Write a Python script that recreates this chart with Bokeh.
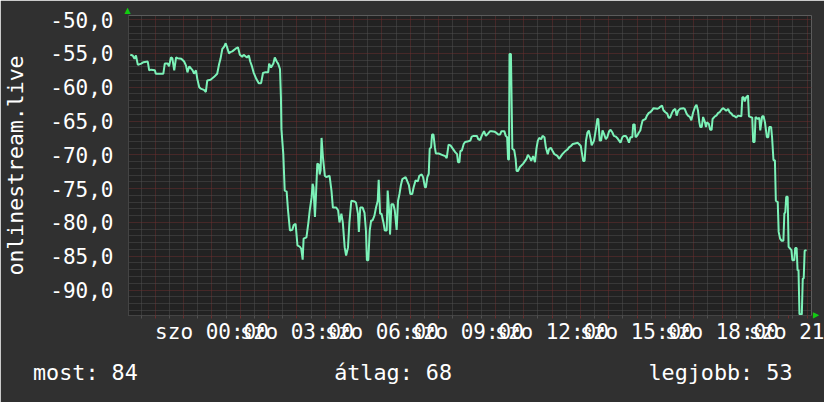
import math
from bokeh.plotting import figure
from bokeh.models import FixedTicker, Range1d, Title
from bokeh.embed import file_html
from bokeh.resources import INLINE

# time in minutes relative to Saturday 00:00, signal in dB
mins_night = [-173, -168, -164, -161, -157, -150, -145, -136, -133, -129, -121, -119, -103, -100, -94,
              -91, -87, -84, -80, -76, -73, -65, -59, -55, -52, -48, -41, -38, -34, -31, -27, -24,
              -17, -13, -10, -3, 4, 11, 15, 18, 22, 25, 29, 32, 36, 39, 43, 50, 55, 59, 64, 67, 74,
              78, 81, 85, 88, 94, 99, 104, 108]
vals_night = [-55.2, -55.3, -55.8, -55.3, -56.7, -56.5, -56.3, -56.2, -57.5, -57.4, -57.5, -58.0, -58.0,
              -56.5, -56.5, -56.9, -55.6, -55.7, -57.5, -55.6, -55.7, -55.8, -56.2, -56.8, -57.8, -56.9,
              -57.5, -58.0, -57.5, -58.8, -60.0, -60.2, -60.4, -60.7, -59.0, -58.9, -58.5, -58.0, -56.6,
              -55.8, -54.3, -54.1, -53.5, -54.1, -55.0, -54.8, -54.7, -54.3, -54.1, -55.2, -55.5, -55.2,
              -55.6, -55.3, -56.2, -57.0, -57.8, -58.8, -59.4, -59.4, -57.9]

mins_early = [112, 119, 121, 125, 130, 133, 137, 140, 144, 146, 147, 151, 154, 158, 161, 165, 170, 173,
              177, 181, 186, 189, 192, 194, 200, 204, 207, 211, 213, 215, 218, 220, 223, 226, 228, 230,
              232, 235, 239, 242, 249, 253, 256, 263, 267, 270, 274, 277, 281, 284, 288, 291, 295, 302,
              305, 309, 311, 314, 319, 323, 326, 328, 331, 334, 337, 340, 344, 347, 351, 353, 356, 359,
              363, 366, 370, 372, 375, 377, 380, 384, 387, 391, 394, 397, 400]
vals_early = [-57.8, -57.8, -56.5, -57.1, -56.5, -55.6, -56.2, -56.5, -57.3, -61.5, -66.2, -69.9, -75.3,
              -75.4, -78.2, -81.2, -81.1, -80.4, -80.2, -83.4, -83.6, -83.9, -85.5, -82.4, -82.2, -80.1,
              -78.2, -76.3, -74.3, -74.8, -79.2, -76.3, -71.3, -71.4, -72.9, -72.3, -67.5, -70.4, -73.1,
              -73.3, -73.1, -75.3, -77.8, -77.8, -78.2, -80.0, -78.7, -80.0, -83.7, -84.9, -83.7, -80.0,
              -76.8, -76.9, -77.1, -78.7, -81.4, -77.8, -77.8, -78.6, -81.2, -85.6, -85.6, -81.2, -79.7,
              -79.7, -79.0, -77.9, -76.8, -73.7, -78.7, -78.7, -80.0, -81.2, -81.2, -75.3, -78.2, -81.8,
              -77.3, -77.3, -78.2, -81.1, -76.8, -75.8, -74.5]

mins_morning = [403, 410, 413, 417, 420, 424, 427, 431, 436, 439, 444, 447, 451, 453, 456, 459, 461, 464,
                466, 469, 472, 474, 480, 487, 494, 497, 501, 505, 508, 512, 515, 519, 521, 524, 526, 529,
                533, 536, 543, 547, 550, 554, 561, 564, 568, 571, 576, 580, 584, 589, 592, 599, 603, 606,
                610, 613, 619, 622, 625, 627, 629, 630, 633, 636, 640, 643, 645, 648, 652, 659, 666, 669,
                673, 676, 680, 684, 687]
vals_morning = [-73.6, -73.3, -73.8, -74.5, -75.8, -75.8, -74.8, -73.8, -73.9, -73.1, -72.9, -73.3, -74.8,
                -74.8, -73.3, -72.8, -69.1, -68.9, -67.0, -67.0, -68.9, -69.8, -69.8, -70.0, -70.2, -70.5,
                -68.5, -68.6, -68.9, -69.3, -69.6, -69.9, -71.1, -71.1, -69.4, -69.4, -68.4, -68.1, -68.0,
                -67.9, -67.3, -67.2, -67.2, -67.7, -67.8, -67.2, -66.5, -67.2, -66.9, -66.5, -66.5, -66.6,
                -66.8, -67.0, -67.0, -66.5, -66.5, -67.2, -67.4, -70.7, -70.7, -55.1, -55.1, -69.1, -69.3,
                -70.6, -72.4, -72.4, -71.8, -71.3, -70.6, -70.0, -70.4, -70.9, -70.2, -71.1, -69.1]

mins_afternoon = [690, 693, 697, 700, 704, 707, 711, 714, 718, 721, 725, 728, 732, 735, 739, 742, 746,
                  749, 753, 756, 760, 764, 771, 774, 777, 781, 783, 786, 789, 792, 795, 798, 802, 804,
                  807, 809, 813, 816, 818, 821, 824, 827, 830, 834, 837, 841, 844, 848, 851, 855, 858,
                  862, 865, 869, 872, 876, 879, 883, 886, 890, 892, 895, 897, 900, 904, 907, 909, 912,
                  918, 921, 925, 928, 932, 935, 943, 946, 949, 953, 956, 960, 964, 967, 970, 974, 977, 981]
vals_afternoon = [-67.9, -67.5, -67.7, -67.2, -67.4, -68.9, -69.9, -69.1, -69.0, -69.4, -69.9, -70.0,
                  -70.2, -70.6, -70.2, -69.9, -69.6, -69.4, -69.2, -68.9, -68.7, -68.4, -68.3, -68.2,
                  -68.4, -68.7, -69.6, -70.9, -70.9, -67.9, -66.7, -66.4, -67.7, -68.6, -68.2, -67.9,
                  -66.2, -64.7, -64.7, -67.9, -67.9, -66.4, -66.9, -67.7, -67.4, -66.5, -66.3, -66.7,
                  -67.2, -67.3, -67.5, -67.9, -68.2, -67.4, -67.2, -67.2, -67.5, -68.2, -67.4, -67.4,
                  -65.5, -65.5, -67.4, -67.2, -66.7, -66.4, -65.7, -64.9, -64.7, -64.2, -63.8, -63.7,
                  -63.4, -63.1, -63.2, -63.1, -62.9, -62.7, -63.4, -63.7, -63.9, -64.5, -64.5, -63.8,
                  -63.4, -63.2]

mins_evening = [984, 987, 991, 998, 1001, 1005, 1008, 1012, 1015, 1019, 1023, 1026, 1029, 1032, 1034,
                1037, 1040, 1044, 1046, 1048, 1052, 1055, 1058, 1060, 1065, 1068, 1072, 1075, 1079, 1082,
                1086, 1089, 1093, 1096, 1100, 1103, 1107, 1110, 1114, 1121, 1123, 1126, 1128, 1131, 1135,
                1137, 1140, 1144, 1146, 1149, 1151, 1156, 1159, 1161, 1165, 1168, 1171, 1175, 1178, 1180,
                1184, 1186, 1189, 1192, 1194, 1198, 1200, 1203, 1206, 1210, 1212, 1214, 1216, 1219, 1221,
                1227, 1229, 1233, 1235, 1238, 1240, 1242, 1244, 1249, 1251, 1253, 1255, 1259]
vals_evening = [-64.2, -63.5, -63.2, -63.1, -63.2, -63.9, -64.2, -64.4, -64.9, -63.7, -62.9, -62.6, -63.4,
                -65.2, -65.9, -65.9, -64.4, -65.2, -65.9, -65.2, -65.4, -66.3, -66.3, -64.7, -64.3, -64.2,
                -63.8, -63.7, -63.3, -63.1, -63.3, -63.5, -63.2, -63.7, -63.9, -64.2, -64.3, -64.5, -64.2,
                -64.3, -61.5, -61.5, -62.1, -61.5, -61.2, -64.3, -64.4, -64.5, -68.1, -68.1, -64.4, -64.7,
                -64.5, -66.4, -64.3, -64.3, -65.2, -67.4, -67.4, -65.9, -65.9, -67.4, -70.8, -70.8, -76.8,
                -77.0, -81.4, -82.4, -82.7, -82.7, -78.7, -78.5, -76.2, -76.2, -83.6, -84.1, -85.6, -85.6,
                -83.8, -83.8, -87.1, -87.0, -93.6, -93.6, -88.3, -88.3, -84.2, -84.1]

y_ticks = [-90, -85, -80, -75, -70, -65, -60, -55, -50]
y_tick_labels = ["-90,0", "-85,0", "-80,0", "-75,0", "-70,0", "-65,0", "-60,0", "-55,0", "-50,0"]
x_label_hours = [0, 3, 6, 9, 12, 15, 18]
x_tick_labels = ["szo 00:00", "szo 03:00", "szo 06:00", "szo 09:00",
                 "szo 12:00", "szo 15:00", "szo 18:00"]
x_last_label = "szo 21"          # the 21:00 label, cut off by the right edge
y_title = "onlinestream.live"
stat_texts = ["most: 84", "átlag: 68", "legjobb: 53"]
stat_columns = [0, 23, 47]   # character columns of the legend entries

mins = mins_night + mins_early + mins_morning + mins_afternoon + mins_evening
vals = vals_night + vals_early + vals_morning + vals_afternoon + vals_evening

X0, X1 = -176.8, 1269.5
Y0, Y1 = -93.77, -49.39
BG = "#303030"
FRAME = "#222222"
FONT = "DejaVu Sans Mono"
GREEN = "#11cc11"

p = figure(width=824, height=402, output_backend="svg", toolbar_location=None,
           x_range=Range1d(X0, X1), y_range=Range1d(Y0, Y1),
           min_border_left=124, min_border_right=13, min_border_top=15, min_border_bottom=87)
p.border_fill_color = BG
p.background_fill_color = FRAME
p.outline_line_color = None

hour_ticks = [h * 60 for h in range(-2, 22)]
half_ticks = [h * 60 + 30 for h in range(-3, 22)]
# the cut-off last label "szo 21" sits where its text would be in a full "szo 21:00" label
last_label_pos = 21 * 60 - 1.5 * 12.64 * (X1 - X0) / 687.0
p.xaxis.ticker = FixedTicker(ticks=hour_ticks + [last_label_pos], minor_ticks=half_ticks)
overrides = {t: "" for t in hour_ticks}
for h, lab in zip(x_label_hours, x_tick_labels):
    overrides[h * 60] = lab
overrides[last_label_pos] = x_last_label
p.xaxis.major_label_overrides = overrides
p.xaxis.major_tick_in = 0
p.xaxis.major_tick_out = 3
p.xaxis.minor_tick_in = 0
p.xaxis.minor_tick_out = 3
p.xaxis.major_tick_line_color = "#6b2e2e"
p.xaxis.minor_tick_line_color = "#505050"
p.xaxis.axis_line_color = "#444444"
p.xaxis.major_label_standoff = 1
p.xaxis.major_label_text_font = FONT
p.xaxis.major_label_text_font_size = "21px"
p.xaxis.major_label_text_color = "white"
p.xgrid.ticker = FixedTicker(ticks=hour_ticks, minor_ticks=half_ticks)

minor_y = [v for v in range(-93, -49) if v % 5 != 0]
p.yaxis.ticker = FixedTicker(ticks=y_ticks, minor_ticks=minor_y)
p.yaxis.major_label_overrides = {t: l for t, l in zip(y_ticks, y_tick_labels)}
p.yaxis.major_tick_in = 0
p.yaxis.major_tick_out = 0
p.yaxis.minor_tick_in = 0
p.yaxis.minor_tick_out = 0
p.yaxis.major_tick_line_color = None
p.yaxis.minor_tick_line_color = None
p.yaxis.axis_line_color = "#444444"
p.yaxis.major_label_standoff = 15
p.yaxis.major_label_text_font = FONT
p.yaxis.major_label_text_font_size = "21px"
p.yaxis.major_label_text_color = "white"
p.yaxis.axis_label = y_title
p.yaxis.axis_label_standoff = 19
p.yaxis.axis_label_text_font = FONT
p.yaxis.axis_label_text_font_size = "21.5px"
p.yaxis.axis_label_text_font_style = "normal"
p.yaxis.axis_label_text_color = "white"

for g in (p.xgrid, p.ygrid):
    g.grid_line_color = "#6b2e2e"
    g.grid_line_dash = "1 1"
    g.grid_line_width = 1
    g.minor_grid_line_color = "#4e4e4e"
    g.minor_grid_line_dash = "1 1"
    g.minor_grid_line_width = 1

p.line(mins, vals, line_color="#7cf2b8", line_width=2)

# legend statistics as one monospace line below the x axis
cols = []
for c, s in zip(stat_columns, stat_texts):
    while len("".join(cols)) < c:
        cols.append("\u00a0")
    cols.append(s)
stat_line = "".join(cols)
p.add_layout(Title(text=stat_line, align="left", offset=-95.5, standoff=23,
                   text_font=FONT, text_font_size="21.75px", text_font_style="normal",
                   text_color="white"), "below")

# small green arrows at the axis ends
p.title.text = "\u25b2"
p.title.align = "left"
p.title.offset = -4
p.title.standoff = 1
p.title.text_font = "DejaVu Sans"
p.title.text_font_size = "8px"
p.title.text_color = GREEN
p.add_layout(Title(text="\u25b2", align="right", offset=-3, standoff=0,
                   text_font="DejaVu Sans", text_font_size="8px", text_color=GREEN), "right")

html = file_html(p, INLINE)
html = html.replace("<body>", '<body style="background-color:#303030;">', 1)
open("out.html", "w").write(html)
